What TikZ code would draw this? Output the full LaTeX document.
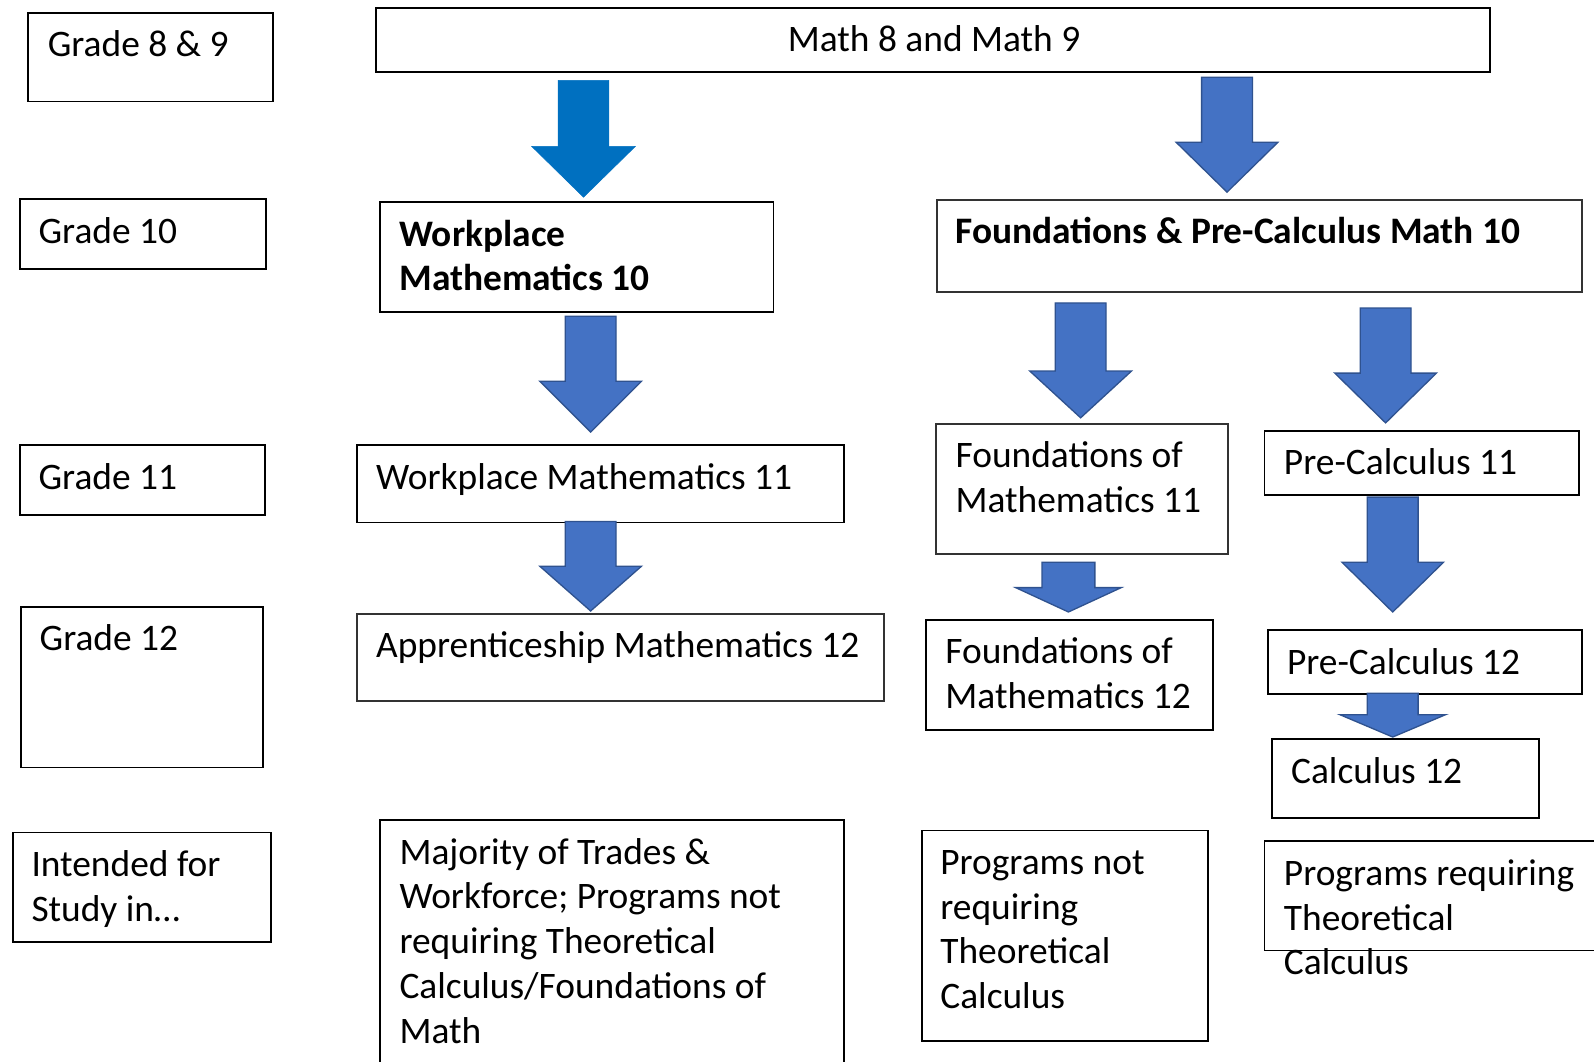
\documentclass[tikz,border=0pt]{standalone}
\usepackage{fontspec}
\setmainfont{Carlito}
\definecolor{arrblue}{HTML}{4472C4}
\definecolor{arredge}{HTML}{2F528F}
\definecolor{brightblue}{HTML}{0070C0}
\newcommand\tstrut{\rule{0pt}{30pt}}
% #1 centre x, #2 top, #3 head start, #4 tip, #5 half shaft, #6 half head, #7 style
\newcommand\blockarr[7]{%
  \draw[#7] (#1-#5,#2) -- (#1+#5,#2) -- (#1+#5,#3) -- (#1+#6,#3) -- (#1,#4)
    -- (#1-#6,#3) -- (#1-#5,#3) -- cycle;}
\begin{document}
\begin{tikzpicture}[x=1pt,y=-1pt,
  box/.style={draw=black,line width=1.8pt,inner sep=0pt,anchor=north west},
  lbl/.style={anchor=north west,inner sep=0pt,outer sep=0pt,align=left,
              font=\fontsize{36.8}{44}\selectfont},
  blbl/.style={lbl,font=\fontsize{36.8}{44}\selectfont\bfseries},
  barrow/.style={fill=arrblue,draw=arredge,line width=1.3pt,line join=miter},
  carrow/.style={fill=brightblue,draw=brightblue,line width=0.5pt}]
\useasboundingbox (0,0) rectangle (1568,1044);
\fill[white] (0,0) rectangle (1568,1044);
\clip (0,0) rectangle (1568,1044);

% boxes
\node[box,minimum width=241pt,minimum height=87pt] (b1) at (27,12) {};
\node[box,minimum width=1096pt,minimum height=63pt] (b2) at (369,7) {};
\node[box,minimum width=242pt,minimum height=69pt] (b3) at (19,195) {};
\node[box,minimum width=387pt,minimum height=108pt] (b4) at (373,198) {};
\node[box,draw=black!80,minimum width=634pt,minimum height=90pt] (b5) at (921,196) {};
\node[box,minimum width=241pt,minimum height=69pt] (b6) at (19,437) {};
\node[box,minimum width=479pt,minimum height=76pt] (b7) at (350,437) {};
\node[box,draw=black!80,minimum width=287pt,minimum height=128pt] (b8) at (920,416) {};
\node[box,minimum width=309pt,minimum height=63pt] (b9) at (1243,423) {};
\node[box,minimum width=238pt,minimum height=158pt] (b10) at (20,596) {};
\node[box,draw=black!80,minimum width=519pt,minimum height=86pt] (b11) at (350,603) {};
\node[box,minimum width=282pt,minimum height=108pt] (b12) at (910,609) {};
\node[box,minimum width=309pt,minimum height=63pt] (b13) at (1246,619) {};
\node[box,minimum width=263pt,minimum height=78pt] (b14) at (1250,726) {};
\node[box,minimum width=254pt,minimum height=108pt] (b15) at (12,818) {};
\node[box,minimum width=456pt,minimum height=260pt] (b16) at (373,806) {};
\node[box,minimum width=281pt,minimum height=207pt] (b17) at (906,816) {};
\node[box,minimum width=340pt,minimum height=108pt] (b18) at (1243,826) {};

% texts
\node[lbl] (t1) at (47,26) {\tstrut Grade 8 \& 9};
\node[lbl] (t2) at (775,21) {\tstrut Math 8 and Math 9};
\node[lbl] (t3) at (38,210) {\tstrut Grade 10};
\node[blbl] (t4) at (393,212) {\tstrut Workplace\\Mathematics 10};
\node[blbl] (t5) at (940,210) {\tstrut Foundations \& Pre-Calculus Math 10};
\node[lbl] (t6) at (38,452) {\tstrut Grade 11};
\node[lbl] (t7) at (370,452) {\tstrut Workplace Mathematics 11};
\node[lbl] (t8) at (940,430) {\tstrut Foundations of\\Mathematics 11};
\node[lbl] (t9) at (1263,437) {\tstrut Pre-Calculus 11};
\node[lbl] (t10) at (39,610) {\tstrut Grade 12};
\node[lbl] (t11) at (370,617) {\tstrut Apprenticeship Mathematics 12};
\node[lbl] (t12) at (930,623) {\tstrut Foundations of\\Mathematics 12};
\node[lbl] (t13) at (1266,633) {\tstrut Pre-Calculus 12};
\node[lbl] (t14) at (1270,741) {\tstrut Calculus 12};
\node[lbl] (t15) at (31,832) {\tstrut Intended for\\Study in…};
\node[lbl] (t16) at (393,820) {\tstrut Majority of Trades \&\\Workforce; Programs not\\requiring Theoretical\\Calculus/Foundations of\\Math};
\node[lbl] (t17) at (925,830) {\tstrut Programs not\\requiring\\Theoretical\\Calculus};
\node[lbl] (t18) at (1263,841) {\tstrut Programs requiring\\Theoretical\\Calculus};

% block arrows
\blockarr{574}{79}{144}{194}{25}{51}{carrow}
\blockarr{1207}{76}{140}{189}{25}{50}{barrow}
\blockarr{581}{311}{375}{425}{25}{50}{barrow}
\blockarr{581}{513}{557}{601}{25}{50}{barrow}
\blockarr{1063}{298}{365}{411}{25}{50}{barrow}
\blockarr{1363}{303}{367}{416}{25}{50}{barrow}
\blockarr{1051}{553}{578}{602}{26}{52}{barrow}
\blockarr{1370}{489}{553}{602}{25}{50}{barrow}
\blockarr{1370}{682}{703}{725}{25}{52}{barrow}
\end{tikzpicture}
\end{document}
